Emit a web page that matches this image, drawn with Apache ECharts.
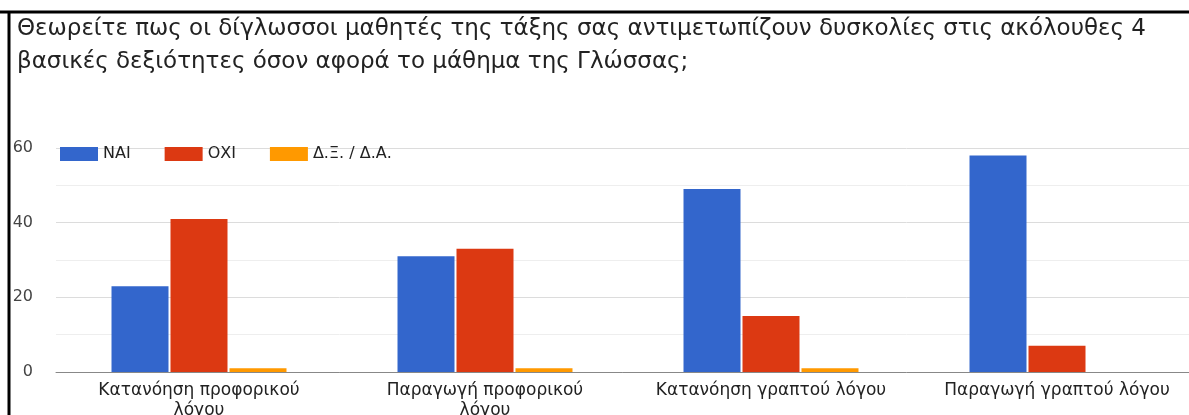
<!DOCTYPE html>
<html>
<head>
<meta charset="utf-8">
<script src="https://cdn.jsdelivr.net/npm/echarts@6/dist/echarts.min.js"></script>
<style>
  html, body { margin: 0; padding: 0; background: #fff; }
  #chart { width: 1189px; height: 415px; }
</style>
</head>
<body>
<div id="chart"></div>
<script>
// Survey answers per language skill
const titleLines = [
  'Θεωρείτε πως οι δίγλωσσοι μαθητές της τάξης σας αντιμετωπίζουν δυσκολίες στις ακόλουθες 4',
  'βασικές δεξιότητες όσον αφορά το μάθημα της Γλώσσας;'
];
const skills = [
  'Κατανόηση προφορικού λόγου',
  'Παραγωγή προφορικού λόγου',
  'Κατανόηση γραπτού λόγου',
  'Παραγωγή γραπτού λόγου'
];
const seriesNames = ['ΝΑΙ', 'ΟΧΙ', 'Δ.Ξ. / Δ.Α.'];
const yesValues = [23, 31, 49, 58];
const noValues = [41, 33, 15, 7];
const dkValues = [1, 1, 1, 0];
const yTicks = [0, 20, 40, 60];

const colors = ['#3366cc', '#dc3912', '#ff9900'];
const font = '"DejaVu Sans", Verdana, sans-serif';

// Greedy word wrap by character count for the category labels
function wrapLabel(text, maxChars) {
  const words = text.split(' ');
  const lines = [];
  let line = '';
  words.forEach(w => {
    const next = line ? line + ' ' + w : w;
    if (next.length > maxChars && line) {
      lines.push(line);
      line = w;
    } else {
      line = next;
    }
  });
  if (line) lines.push(line);
  return lines.join('\n');
}

const chart = echarts.init(document.getElementById('chart'));

const values = [yesValues, noValues, dkValues];
const series = seriesNames.map((name, i) => ({
  name: name,
  type: 'bar',
  data: values[i],
  barWidth: 57,
  barGap: '3.5%',
  itemStyle: { color: colors[i] }
}));

chart.setOption({
  animation: false,
  textStyle: { fontFamily: font },
  title: {
    text: titleLines.join('\n'),
    left: 12,
    top: 8,
    textStyle: {
      fontFamily: font,
      fontSize: 23,
      fontWeight: 'normal',
      color: '#222',
      lineHeight: 33
    }
  },
  legend: {
    left: 55,
    top: 141,
    itemWidth: 38,
    itemHeight: 14,
    itemGap: 34,
    icon: 'rect',
    textStyle: { fontSize: 16, color: '#222', fontFamily: font },
    data: seriesNames
  },
  grid: {
    left: 56,
    top: 148,
    width: 1144,
    height: 224,
    containLabel: false,
    outerBoundsMode: 'none'
  },
  xAxis: {
    type: 'category',
    data: skills,
    axisTick: { show: false },
    axisLine: { lineStyle: { color: '#888', width: 1 } },
    axisLabel: {
      fontSize: 17,
      color: '#222',
      margin: 9,
      lineHeight: 20,
      interval: 0,
      formatter: v => wrapLabel(v, 23)
    }
  },
  yAxis: {
    type: 'value',
    min: yTicks[0],
    max: yTicks[yTicks.length - 1],
    interval: 20,
    axisLine: { show: false },
    axisTick: { show: false },
    axisLabel: { fontSize: 16, color: '#444', margin: 23 },
    splitLine: { lineStyle: { color: '#dcdcdc', width: 1 } },
    minorTick: { show: false, splitNumber: 2 },
    minorSplitLine: { show: true, lineStyle: { color: '#eeeeee', width: 1 } }
  },
  graphic: [
    { type: 'line', shape: { x1: 0, y1: 12, x2: 1189, y2: 12 }, style: { stroke: '#000', lineWidth: 3 } },
    { type: 'line', shape: { x1: 9, y1: 11, x2: 9, y2: 415 }, style: { stroke: '#000', lineWidth: 3 } }
  ],
  series: series
});
</script>
</body>
</html>
